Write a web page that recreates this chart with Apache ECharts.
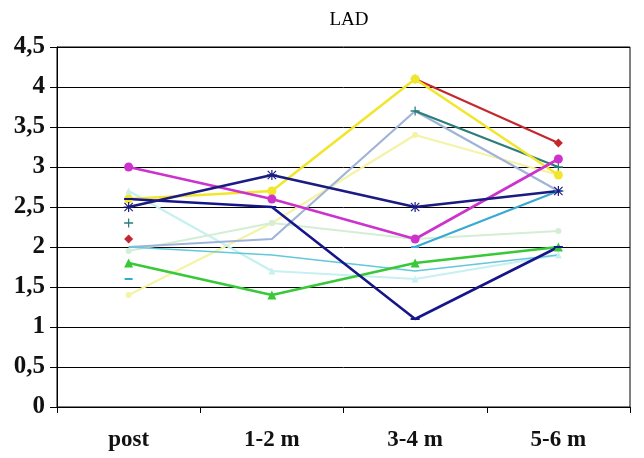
<!DOCTYPE html>
<html>
<head>
<meta charset="utf-8">
<script src="https://cdn.jsdelivr.net/npm/echarts@6/dist/echarts.min.js"></script>
<style>html,body{margin:0;padding:0;background:#fff}#c{width:644px;height:458px}</style>
</head>
<body>
<div id="c"></div>
<script>
var categories = ['post', '1-2 m', '3-4 m', '5-6 m'];
var yTicks = [0, 0.5, 1, 1.5, 2, 2.5, 3, 3.5, 4, 4.5];

var paleYellow = [1.4, 2.3, 3.4, 2.9];
var paleCyan = [2.7, 1.7, 1.6, 1.9];
var paleGreen = [1.95, 2.3, 2.1, 2.2];
var steelBlue = [2.0, 2.1, 3.7, 2.7];
var midCyan = [2.0, 1.9, 1.7, 1.9];
var skyBlue = [1.6, null, 2.0, 2.7];
var teal = [2.3, null, 3.7, 3.0];
var darkRed = [2.1, null, 4.1, 3.3];
var yellow = [2.6, 2.7, 4.1, 2.9];
var magenta = [3.0, 2.6, 2.1, 3.1];
var green = [1.8, 1.4, 1.8, 2.0];
var navyDash = [2.6, 2.5, 1.1, 2.0];
var navyStar = [2.5, 2.9, 2.5, 2.7];

var PLUS = 'path://M4.3,0H5.7V10H4.3ZM0,4.3H10V5.7H0Z';
var STAR = 'path://M4.4,0H5.6V10H4.4ZM0,4.4H10V5.6H0ZM1.2,0.4L9.6,8.8L8.8,9.6L0.4,1.2ZM8.8,0.4L9.6,1.2L1.2,9.6L0.4,8.8Z';

function s(name, data, color, symbol, size, width) {
  return {
    name: name, type: 'line', data: data,
    symbol: symbol || 'none', symbolSize: size || 8, showSymbol: !!symbol,
    connectNulls: false,
    lineStyle: {color: color, width: width || 2},
    itemStyle: {color: color},
    emphasis: {disabled: true},
    z: 2
  };
}

var chart = echarts.init(document.getElementById('c'));
chart.setOption({
  animation: false,
  backgroundColor: '#fff',
  title: {
    text: 'LAD', left: 344, top: 6, textAlign: 'center',
    textStyle: {fontFamily: 'Liberation Serif', fontWeight: 'normal', fontSize: 19, color: '#000'}
  },
  grid: {left: 57, right: 14, top: 47, bottom: 51, show: true, borderColor: '#000', borderWidth: 1},
  xAxis: {
    type: 'category', data: categories, boundaryGap: true,
    axisLine: {lineStyle: {color: '#000', width: 1}},
    axisTick: {show: true, interval: 0, length: 6, lineStyle: {color: '#000'}},
    axisLabel: {margin: 22, fontFamily: 'Liberation Serif', fontWeight: 'bold', fontSize: 23, color: '#111'}
  },
  yAxis: {
    type: 'value', min: 0, max: 4.5, interval: 0.5,
    axisLine: {show: true, lineStyle: {color: '#000', width: 1}},
    axisTick: {show: true, length: 7, lineStyle: {color: '#000'}},
    splitLine: {show: true, lineStyle: {color: '#000', width: 1}},
    axisLabel: {
      margin: 12, fontFamily: 'Liberation Serif', fontWeight: 'bold', fontSize: 25, color: '#111',
      formatter: function (v) { return String(v).replace('.', ','); }
    }
  },
  series: [
    s('pale yellow', paleYellow, '#F4F3A6', 'circle', 6, 2.2),
    s('pale cyan', paleCyan, '#C6F0F2', 'triangle', 7, 2.2),
    s('pale green', paleGreen, '#D4EED6', 'circle', 6, 2.2),
    s('steel blue', steelBlue, '#9FB4D8', null, 8, 2.2),
    s('mid cyan', midCyan, '#62C9DA', 'none', 8, 1.6),
    s('sky blue', skyBlue, '#3AA9D2', 'rect', [8, 2], 2.2),
    s('teal', teal, '#2C7E7A', PLUS, 9, 2.2),
    s('dark red', darkRed, '#C4282C', 'diamond', 9, 2.2),
    s('yellow', yellow, '#F2E62C', 'circle', 9, 2.6),
    s('magenta', magenta, '#CC33CC', 'circle', 9, 2.6),
    s('green', green, '#38C838', 'triangle', 9, 2.6),
    s('navy dash', navyDash, '#16168A', 'rect', [9, 2], 2.6),
    s('navy star', navyStar, '#1B1B82', STAR, 10, 2.6)
  ]
});
</script>
</body>
</html>
